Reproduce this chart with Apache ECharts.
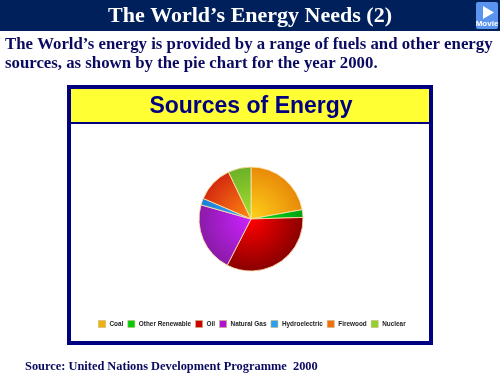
<!DOCTYPE html>
<html>
<head>
<meta charset="utf-8">
<style>html,body{margin:0;padding:0;background:#fff}#chart{width:500px;height:375px}</style>
<script src="https://cdn.jsdelivr.net/npm/echarts@6/dist/echarts.min.js"></script>
</head>
<body>
<div id="chart"></div>
<script>
var categories = ['Coal', 'Other Renewable', 'Oil', 'Natural Gas', 'Hydroelectric', 'Firewood', 'Nuclear'];
var values = [22.1, 2.4, 33, 21.8, 2.1, 11.4, 7.1];
var innerColors = ['#ffd21a', '#00e61a', '#ff0000', '#cc22ff', '#33aaff', '#ff8a10', '#a6e22e'];
var outerColors = ['#e88a08', '#00a010', '#8a0000', '#8a1aa8', '#1a80d8', '#d42a10', '#6cb028'];
var legendColors = ['#f0b010', '#00cc00', '#cc0000', '#b010d0', '#2aa0f0', '#f07010', '#90d030'];

var navy = '#000080';
var chart = echarts.init(document.getElementById('chart'));

var pieData = categories.map(function (name, i) {
  return {
    name: name,
    value: values[i],
    itemStyle: {
      color: {
        type: 'radial', x: 251, y: 219, r: 52, global: true,
        colorStops: [{offset: 0, color: innerColors[i]}, {offset: 1, color: outerColors[i]}]
      }
    }
  };
});

chart.setOption({
  animation: false,
  backgroundColor: '#fff',
  graphic: [
    {type: 'rect', z: 0, shape: {x: 0, y: 0, width: 500, height: 31}, style: {fill: '#00205c'}},
    {type: 'text', z: 1, x: 250, y: 16, style: {text: 'The World\u2019s Energy Needs (2)', fill: '#fff', font: 'bold 22px "Liberation Serif"', align: 'center', verticalAlign: 'middle'}},
    {type: 'rect', z: 1, shape: {x: 476, y: 2, width: 22, height: 27, r: 2}, style: {fill: '#5b94ee'}},
    {type: 'polygon', z: 2, shape: {points: [[483, 6], [483, 19], [494, 12.5]]}, style: {fill: '#ffffff'}},
    {type: 'text', z: 2, x: 487, y: 24, style: {text: 'Movie', fill: '#fff', font: 'bold 8px "Liberation Sans"', align: 'center', verticalAlign: 'middle'}},
    {type: 'text', z: 1, x: 5, y: 45, style: {text: 'The World\u2019s energy is provided by a range of fuels and other energy', fill: '#0a0a60', font: 'bold 16.8px "Liberation Serif"', verticalAlign: 'middle'}},
    {type: 'text', z: 1, x: 5, y: 64, style: {text: 'sources, as shown by the pie chart for the year 2000.', fill: '#0a0a60', font: 'bold 16.8px "Liberation Serif"', verticalAlign: 'middle'}},
    {type: 'rect', z: 0, shape: {x: 69, y: 87, width: 362, height: 256}, style: {fill: '#fff', stroke: navy, lineWidth: 4}},
    {type: 'rect', z: 1, shape: {x: 71, y: 89, width: 358, height: 33}, style: {fill: '#ffff33'}},
    {type: 'rect', z: 1, shape: {x: 71, y: 122, width: 358, height: 2}, style: {fill: navy}},
    {type: 'text', z: 2, x: 251, y: 107, style: {text: 'Sources of Energy', fill: navy, font: 'bold 23px "Liberation Sans"', align: 'center', verticalAlign: 'middle'}},
    {type: 'text', z: 1, x: 25, y: 367, style: {text: 'Source: United Nations Development Programme  2000', fill: '#0a0a60', font: 'bold 12.4px "Liberation Serif"', verticalAlign: 'middle'}}
  ],
  legend: {
    data: categories.map(function (name, i) {
      return {name: name, itemStyle: {color: legendColors[i], borderColor: 'rgba(200,180,120,0.6)', borderWidth: 1}};
    }),
    left: 93, top: 315,
    itemWidth: 7, itemHeight: 7, itemGap: 4,
    icon: 'rect',
    selectedMode: false,
    textStyle: {fontFamily: 'Liberation Sans', fontSize: 6.4, fontWeight: 'bold', color: '#222', padding: [0, 0, 0, -1]}
  },
  series: [{
    type: 'pie',
    center: [251, 219],
    radius: [0, 52],
    startAngle: 90,
    clockwise: true,
    label: {show: false},
    labelLine: {show: false},
    silent: true,
    itemStyle: {borderColor: 'rgba(255,225,170,0.85)', borderWidth: 1},
    data: pieData
  }]
});
</script>
</body>
</html>
